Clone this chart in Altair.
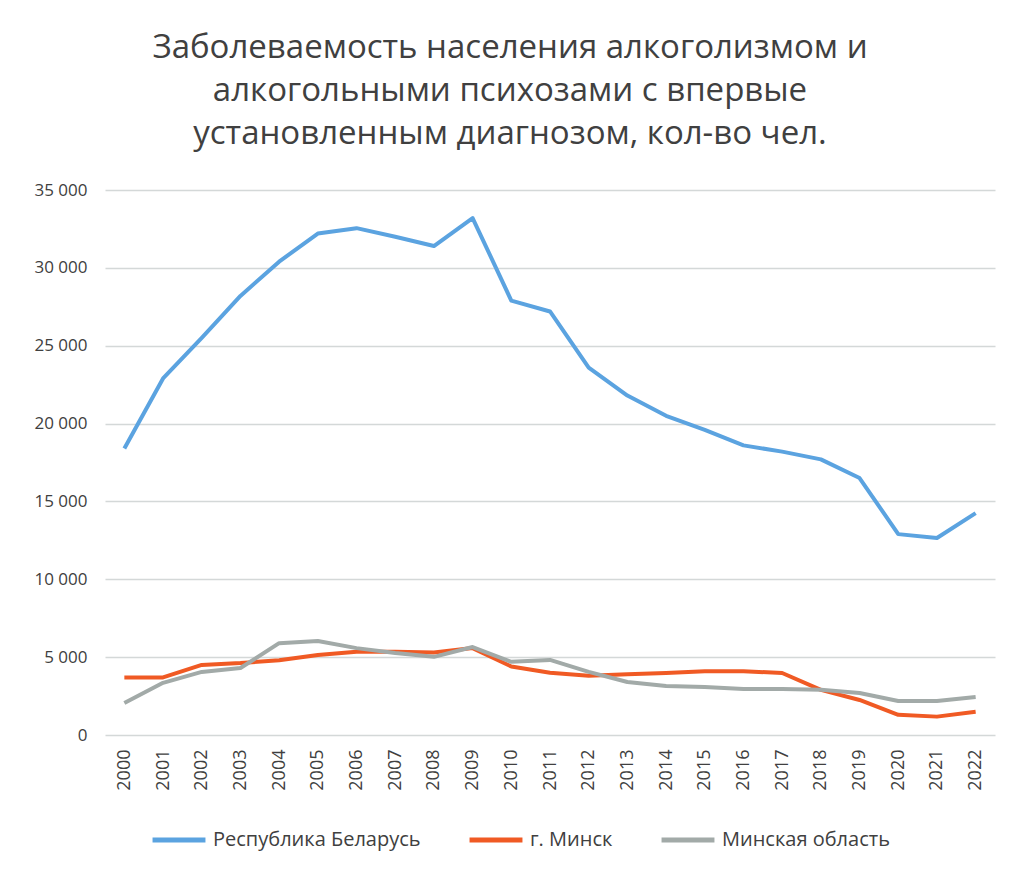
import altair as alt
import pandas as pd

years = [str(y) for y in range(2000, 2023)]
belarus = [18400, 22900, 25500, 28200, 30400, 32200, 32550, 32000, 31400, 33200,
           27900, 27200, 23600, 21800, 20500, 19600, 18600, 18200, 17700, 16500,
           12900, 12650, 14250]
minsk_city = [3700, 3700, 4500, 4620, 4800, 5140, 5350, 5350, 5300, 5580,
              4400, 4000, 3800, 3900, 3980, 4100, 4100, 3980, 2900, 2250,
              1300, 1180, 1500]
minsk_region = [2050, 3350, 4050, 4300, 5900, 6040, 5580, 5260, 5020, 5650,
                4700, 4820, 4050, 3400, 3150, 3080, 2950, 2950, 2900, 2700,
                2180, 2180, 2440]

series_names = ["Республика Беларусь", "г. Минск", "Минская область"]
series_colors = ["#5BA3E0", "#F05A24", "#A2AAA8"]

rows = []
for name, vals in zip(series_names, [belarus, minsk_city, minsk_region]):
    for y, v in zip(years, vals):
        rows.append({"Год": y, "Значение": v, "Серия": name})
df = pd.DataFrame(rows)

FONT = "Open Sans"

chart = alt.Chart(df).mark_line(strokeWidth=4, strokeJoin="round").encode(
    x=alt.X("Год:O", title=None, sort=years,
            scale=alt.Scale(paddingInner=0, paddingOuter=0.5),
            axis=alt.Axis(labelAngle=-90, labelFontSize=18, labelColor="#404040",
                          labelFont=FONT, ticks=False, domain=False, grid=False,
                          labelPadding=14)),
    y=alt.Y("Значение:Q", title=None,
            scale=alt.Scale(domain=[0, 35000], nice=False),
            axis=alt.Axis(values=list(range(0, 35001, 5000)), labelFontSize=17,
                          labelColor="#404040", labelFont=FONT, ticks=False,
                          domain=False, gridColor="#D4D8D8", gridWidth=1.5,
                          labelPadding=18,
                          labelExpr="replace(format(datum.value, ','), ',', ' ')")),
    color=alt.Color("Серия:N", sort=series_names,
                    scale=alt.Scale(domain=series_names, range=series_colors),
                    legend=alt.Legend(title=None, orient="none", direction="horizontal",
                                      legendX=45, legendY=621,
                                      symbolType="stroke", symbolSize=2800,
                                      symbolStrokeWidth=5, labelFontSize=20,
                                      labelFont=FONT, labelColor="#404040",
                                      labelLimit=400,
                                      columnPadding=38, labelOffset=5)),
).properties(
    width=890,
    height=545,
    title=alt.TitleParams(
        text=["Заболеваемость населения алкоголизмом и",
              "алкогольными психозами с впервые",
              "установленным диагнозом, кол-во чел."],
        fontSize=33, font=FONT, fontWeight="normal", color="#404040",
        anchor="middle", dx=-40, offset=30, lineHeight=43),
    autosize=alt.AutoSizeParams(type="none"),
    padding={"left": 97, "top": 182, "right": 13, "bottom": 140},
).configure_view(stroke=None)

chart.save("out.html", embed_options={"renderer": "svg", "actions": False})
